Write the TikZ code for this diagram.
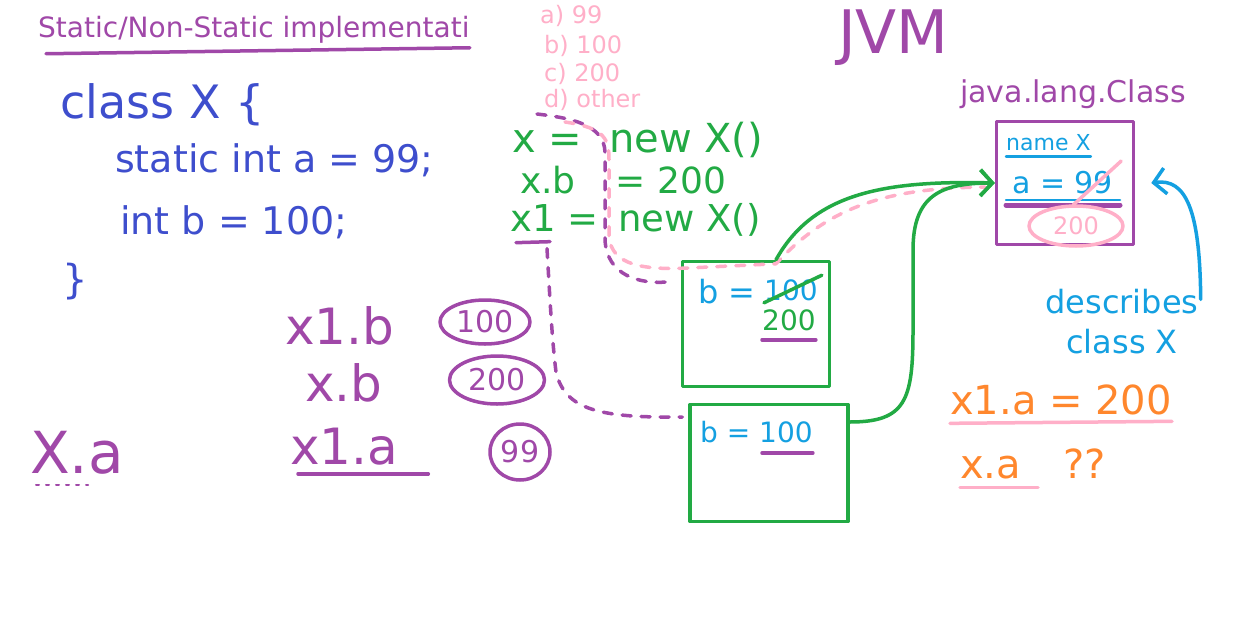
\documentclass[tikz,border=0pt]{standalone}
\usepackage{fontspec}
\setmainfont{DejaVu Sans}
\usetikzlibrary{shapes.geometric,arrows.meta}

\definecolor{penpurple}{RGB}{160,72,168}
\definecolor{penblue}{RGB}{62,78,205}
\definecolor{pengreen}{RGB}{34,170,68}
\definecolor{pencyan}{RGB}{20,160,225}
\definecolor{penpink}{RGB}{255,175,200}
\definecolor{penorange}{RGB}{255,135,45}

\begin{document}
\begin{tikzpicture}[x=1pt,y=-1pt,
  pen/.style={line width=3.5pt, line cap=round, line join=round},
  txt/.style={inner sep=0pt, anchor=west, font=\fontsize{#1}{#1}\selectfont},
  objbox/.style={draw=pengreen, pen, inner sep=0pt},
  ring/.style={ellipse, draw=penpurple, pen, inner sep=0pt, text=penpurple, font=\fontsize{30}{30}\selectfont},
  ref/.style={pen, dash pattern=on 9pt off 10pt},
  barb/.style={-{Straight Barb[length=12pt,width=26pt]}}]
  \fill[white] (0,0) rectangle (1246,621);
  \useasboundingbox (0,0) rectangle (1246,621);

  % Title
  \node[txt=28, text=penpurple] (title) at (38,30) {Static/Non-Static implementati};
  \draw[pen, penpurple] ([xshift=8pt,yshift=-10pt]title.south west) -- ([yshift=-4pt]title.south east);

  % Class X source
  \node[txt=46, text=penblue] (cls) at (60,105) {class X \{};
  \node[txt=38, text=penblue] (stat) at (115,160) {static int a = 99;};
  \node[txt=38, text=penblue] (intb) at (120,222) {int b = 100;};
  \node[txt=40, text=penblue] (close) at (62,282) {\}};

  % Quiz options
  \node[txt=24, text=penpink] (opta) at (540,16) {a) 99};
  \node[txt=24, text=penpink] (optb) at (544,46) {b) 100};
  \node[txt=24, text=penpink] (optc) at (544,74) {c) 200};
  \node[txt=24, text=penpink] (optd) at (544,100) {d) other};

  % Statements
  \node[txt=40, text=pengreen] (newx) at (512,140) {x =\hspace{27pt}new X()};
  \node[txt=36, text=pengreen] (setb) at (520,180) {x.b\hspace{40pt}= 200};
  \node[txt=37, text=pengreen] (newxone) at (510,220) {x1 =\hspace{20pt}new X()};
  \draw[pen, penpurple] ([xshift=6pt,yshift=-6pt]newxone.south west) -- ([xshift=40pt,yshift=-5pt]newxone.south west);

  % Answers
  \node[txt=50, text=penpurple] (xoneb) at (285,326) {x1.b};
  \node[ring, minimum width=90pt, minimum height=44pt] (vb1) at (485,322) {100};
  \node[txt=50, text=penpurple] (xb) at (305,383) {x.b};
  \node[ring, minimum width=95pt, minimum height=48pt] (vb2) at (497,380) {200};
  \node[txt=50, text=penpurple] (xonea) at (290,447) {x1.a};
  \draw[pen, penpurple] ([xshift=8pt,yshift=-8pt]xonea.south west) -- ([xshift=30pt,yshift=-8pt]xonea.south east);
  \node[ring, minimum width=60pt, minimum height=56pt] (va) at (520,452) {99};
  \node[txt=58, text=penpurple] (xa) at (30,453) {X.a};
  \draw[pen, penpurple, line width=2pt, dash pattern=on 3pt off 7pt] ([xshift=6pt,yshift=-10pt]xa.south west) -- ([xshift=-36pt,yshift=-10pt]xa.south east);

  % JVM
  \node[txt=60, text=penpurple] (jvm) at (838,38) {JVM};
  \node[txt=30, text=penpurple] (jlc) at (960,94) {java.lang.Class};

  % Class object
  \node[draw=penpurple, pen, minimum width=137pt, minimum height=123pt] (classbox) at (1065,183) {};
  \node[txt=22, text=pencyan] (cname) at (1006,143) {name X};
  \draw[pen, pencyan, line width=2.5pt] ([yshift=-5pt]cname.south west) -- ([yshift=-5pt]cname.south east);
  \node[txt=30, text=pencyan] (astat) at (1012,183) {a = 99};
  \draw[pen, pencyan, line width=2.5pt] (1006,200) -- (1120,200);
  \draw[pen, penpurple, line width=5pt] (1006,205) -- (1120,205);
  \node[ellipse, draw=penpink, pen, minimum width=94pt, minimum height=40pt, inner sep=0pt, text=penpink, font=\fontsize{24}{24}\selectfont] (anew) at (1076,226) {200};
  \draw[pen, penpink] ([xshift=-40pt,yshift=-22pt]astat.east) -- ([xshift=8pt,yshift=22pt]astat.east);

  \node[align=center, inner sep=0pt, text=pencyan, font=\fontsize{32}{40}\selectfont] (desc) at (1122,322) {describes\\class X};

  % Objects
  \node[objbox, minimum width=147pt, minimum height=125pt] (objx) at (756,324) {};
  \node[txt=32, text=pencyan] (bx) at (698,292) {b =};
  \node[txt=28, text=pencyan] (oldb) at (764,290) {100};
  \draw[pen, pengreen] ([yshift=-2pt]oldb.south west) -- ([xshift=4pt,yshift=4pt]oldb.north east);
  \node[txt=28, text=pengreen] (newb) at (762,320) {200};
  \draw[pen, penpurple] ([yshift=-9pt]newb.south west) -- ([yshift=-9pt]newb.south east);

  \node[objbox, minimum width=158pt, minimum height=117pt] (objxone) at (769,463) {};
  \node[txt=28, text=pencyan] (bxone) at (700,432) {b = 100};
  \draw[pen, penpurple] ([xshift=62pt,yshift=-10pt]bxone.south west) -- ([yshift=-10pt]bxone.south east);

  % Edges
  \draw[ref, penpurple] ([xshift=25pt,yshift=8pt]newx.north west) .. controls (570,118) and (604,124) .. (605,152) -- (605,240) .. controls (607,276) and (640,284) .. ([xshift=-14pt,yshift=42pt]objx.west);
  \draw[ref, penpink] ([xshift=53pt]newx.north west) .. controls (606,128) and (609,140) .. (609,160) -- (609,236) .. controls (611,266) and (645,270) .. (688,268) -- ([xshift=20pt,yshift=-4pt]objx.north) .. controls (830,205) and (890,188) .. (985,187);
  \draw[ref, penpurple] ([xshift=37pt,yshift=-12pt]newxone.south west) .. controls (550,300) and (552,340) .. (556,372) .. controls (565,410) and (600,418) .. ([xshift=-6pt,yshift=46pt]objxone.west);
  \draw[pen, pengreen, barb] ([xshift=20pt]objx.north) .. controls (812,195) and (880,180) .. (classbox.west);
  \draw[pen, pengreen, barb] ([yshift=41pt]objxone.east) .. controls (906,422) and (913,400) .. (913,330) -- (913,250) .. controls (913,196) and (940,183) .. (classbox.west);
  \draw[pen, pencyan, barb] ([xshift=2pt,yshift=-10pt]desc.north east) .. controls (1200,210) and (1186,178) .. ([xshift=16pt]classbox.east);

  % Conclusions
  \node[txt=40, text=penorange] (xoneas) at (950,400) {x1.a = 200};
  \draw[pen, penpink] ([yshift=-8pt]xoneas.south west) -- ([yshift=-6pt]xoneas.south east);
  \node[txt=40, text=penorange] (xas) at (960,464) {x.a\hspace{42pt}??};
  \draw[pen, penpink] ([yshift=-8pt]xas.south west) -- ([xshift=78pt,yshift=-8pt]xas.south west);
\end{tikzpicture}
\end{document}
